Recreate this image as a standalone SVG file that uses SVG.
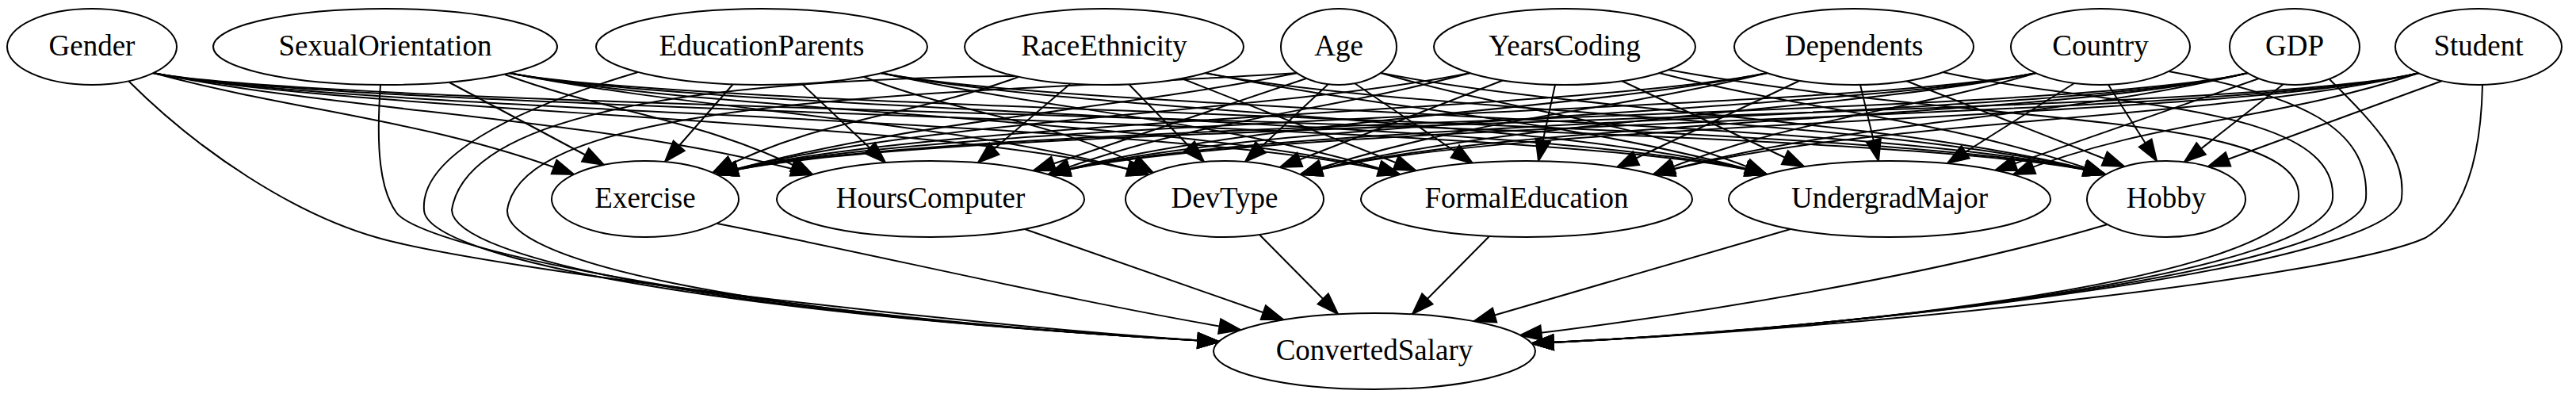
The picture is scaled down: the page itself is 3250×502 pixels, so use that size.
<svg xmlns="http://www.w3.org/2000/svg" width="3250" height="502" viewBox="0 0 3250 502">
<style>
.n ellipse{fill:#fff;stroke:#000;stroke-width:2}
.n text{font-family:"Liberation Serif","Times New Roman",serif;font-size:37px;text-anchor:middle;fill:#000}
#edges path{fill:none;stroke:#000;stroke-width:2;marker-end:url(#ah)}
</style>
<defs>
<marker id="ah" markerUnits="userSpaceOnUse" viewBox="-30 -12 34 24" refX="0" refY="0" markerWidth="34" markerHeight="24" orient="auto" overflow="visible">
<path d="M-26.7,-9.3 L0,0 L-26.7,9.3 Z" fill="#000" stroke="#000" stroke-width="2"/>
</marker>
</defs>
<rect x="0" y="0" width="3250" height="502" fill="#fff"/>
<g id="edges">
<path d="M193,92 C379,142 538,150 724,220"/>
<path d="M193,92 C443,142 775,150 1025,220"/>
<path d="M193,92 C443,142 1199,150 1449,220"/>
<path d="M193,92 C443,142 1516,150 1766,220"/>
<path d="M193,92 C443,142 1979,150 2229,220"/>
<path d="M193,92 C443,142 2406,150 2656,220"/>
<path d="M162,102 C250,190 370,270 477,300 C620,340 1200,410 1538,431"/>
<path d="M567,104 L762,208"/>
<path d="M637,94 C773,144 889,150 1025,220"/>
<path d="M642,92 C892,142 1199,150 1449,220"/>
<path d="M642,92 C892,142 1516,150 1766,220"/>
<path d="M642,92 C892,142 1979,150 2229,220"/>
<path d="M642,92 C892,142 2406,150 2656,220"/>
<path d="M480,107 C474,190 480,240 500,268 C530,310 900,395 1538,431"/>
<path d="M925,106 L839,204"/>
<path d="M1012,106 L1117,205"/>
<path d="M1090,97 C1218,147 1327,148 1455,218"/>
<path d="M1111,92 C1340,142 1537,150 1766,220"/>
<path d="M1111,92 C1361,142 1979,150 2229,220"/>
<path d="M1111,92 C1361,142 2406,150 2656,220"/>
<path d="M805,91 C640,140 530,200 535,265 C538,325 900,395 1538,431"/>
<path d="M1285,97 C1150,147 1034,148 899,218"/>
<path d="M1350,106 L1234,205"/>
<path d="M1424,106 L1519,204"/>
<path d="M1491,99 L1786,215"/>
<path d="M1520,92 C1768,142 1981,150 2229,220"/>
<path d="M1520,92 C1770,142 2406,150 2656,220"/>
<path d="M1280,96 C950,100 590,130 570,265 C572,325 900,395 1538,431"/>
<path d="M1637,92 C1387,142 1154,150 904,220"/>
<path d="M1648,99 L1304,215"/>
<path d="M1676,106 L1571,204"/>
<path d="M1709,105 L1858,206"/>
<path d="M1742,92 C1912,142 2059,150 2229,220"/>
<path d="M1742,92 C1992,142 2406,150 2656,220"/>
<path d="M1637,92 C1200,120 660,120 640,265 C637,325 900,395 1538,431"/>
<path d="M1855,92 C1605,142 1154,150 904,220"/>
<path d="M1855,92 C1669,142 1509,150 1323,220"/>
<path d="M1897,101 L1615,211"/>
<path d="M1962,107 L1941,203"/>
<path d="M2046,102 L2276,210"/>
<path d="M2093,92 C2290,142 2459,150 2656,220"/>
<path d="M2105,88 C2500,160 2910,140 2900,250 C2895,350 2350,415 1933,433"/>
<path d="M2230,92 C1980,142 1154,150 904,220"/>
<path d="M2230,92 C1980,142 1573,150 1323,220"/>
<path d="M2230,92 C2024,142 1847,150 1641,220"/>
<path d="M2270,102 L2040,211"/>
<path d="M2347,107 L2370,203"/>
<path d="M2405,102 L2680,210"/>
<path d="M2451,91 C2650,135 2950,130 2943,250 C2938,345 2350,415 1933,433"/>
<path d="M2569,92 C2319,142 1154,150 904,220"/>
<path d="M2569,92 C2319,142 1573,150 1323,220"/>
<path d="M2569,92 C2319,142 1891,150 1641,220"/>
<path d="M2569,92 C2400,142 2255,150 2086,220"/>
<path d="M2617,105 L2457,206"/>
<path d="M2660,107 L2721,203"/>
<path d="M2736,90 C2900,120 2990,160 2985,250 C2980,340 2350,415 1933,433"/>
<path d="M2836,92 C2586,152 1154,150 904,220"/>
<path d="M2836,92 C2586,152 1573,150 1323,220"/>
<path d="M2836,92 C2586,152 1891,150 1641,220"/>
<path d="M2836,92 C2586,152 2336,150 2086,220"/>
<path d="M2850,99 L2517,215"/>
<path d="M2881,106 L2756,204"/>
<path d="M2939,100 C3005,165 3035,200 3030,250 C3025,335 2350,415 1933,433"/>
<path d="M3052,92 C2802,152 1154,150 904,220"/>
<path d="M3052,92 C2802,152 1573,150 1323,220"/>
<path d="M3052,92 C2802,152 1891,150 1641,220"/>
<path d="M3052,92 C2802,152 2336,150 2086,220"/>
<path d="M3052,92 C2873,152 2719,150 2540,220"/>
<path d="M3081,102 L2786,210"/>
<path d="M3132,107 C3130,200 3110,270 3060,300 C2950,350 2350,415 1933,433"/>
<path d="M905,282 C1100,320 1350,380 1565,416"/>
<path d="M1293,289 L1619,403"/>
<path d="M1589,296 L1688,396"/>
<path d="M1879,298 L1782,396"/>
<path d="M2259,289 L1860,405"/>
<path d="M2659,283 C2450,345 2150,395 1918,423"/>
</g>
<g id="Gender" class="n"><ellipse cx="116" cy="59" rx="107" ry="48"/><text x="116" y="70">Gender</text></g>
<g id="SexualOrientation" class="n"><ellipse cx="486" cy="59" rx="217" ry="48"/><text x="486" y="70">SexualOrientation</text></g>
<g id="EducationParents" class="n"><ellipse cx="961" cy="59" rx="209" ry="48"/><text x="961" y="70">EducationParents</text></g>
<g id="RaceEthnicity" class="n"><ellipse cx="1393" cy="59" rx="176" ry="48"/><text x="1393" y="70">RaceEthnicity</text></g>
<g id="Age" class="n"><ellipse cx="1689" cy="59" rx="73" ry="48"/><text x="1689" y="70">Age</text></g>
<g id="YearsCoding" class="n"><ellipse cx="1974" cy="59" rx="165" ry="48"/><text x="1974" y="70">YearsCoding</text></g>
<g id="Dependents" class="n"><ellipse cx="2339" cy="59" rx="151" ry="48"/><text x="2339" y="70">Dependents</text></g>
<g id="Country" class="n"><ellipse cx="2650" cy="59" rx="113" ry="48"/><text x="2650" y="70">Country</text></g>
<g id="GDP" class="n"><ellipse cx="2895" cy="59" rx="82" ry="48"/><text x="2895" y="70">GDP</text></g>
<g id="Student" class="n"><ellipse cx="3127" cy="59" rx="105" ry="48"/><text x="3127" y="70">Student</text></g>
<g id="Exercise" class="n"><ellipse cx="814" cy="251" rx="118" ry="48"/><text x="814" y="262">Exercise</text></g>
<g id="HoursComputer" class="n"><ellipse cx="1174" cy="251" rx="194" ry="48"/><text x="1174" y="262">HoursComputer</text></g>
<g id="DevType" class="n"><ellipse cx="1545" cy="251" rx="125" ry="48"/><text x="1545" y="262">DevType</text></g>
<g id="FormalEducation" class="n"><ellipse cx="1926" cy="251" rx="209" ry="48"/><text x="1926" y="262">FormalEducation</text></g>
<g id="UndergradMajor" class="n"><ellipse cx="2384" cy="251" rx="203" ry="48"/><text x="2384" y="262">UndergradMajor</text></g>
<g id="Hobby" class="n"><ellipse cx="2733" cy="251" rx="100" ry="48"/><text x="2733" y="262">Hobby</text></g>
<g id="ConvertedSalary" class="n"><ellipse cx="1734" cy="443" rx="203" ry="48"/><text x="1734" y="454">ConvertedSalary</text></g>
</svg>
